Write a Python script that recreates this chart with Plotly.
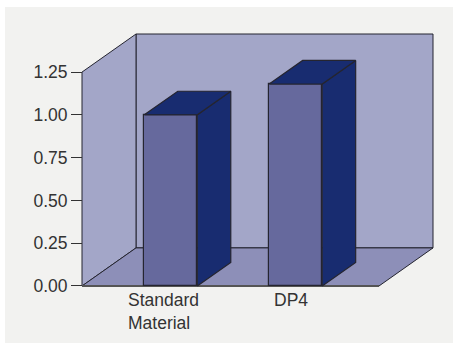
import plotly.graph_objects as go

# Data
categories = ["Standard<br>Material", "DP4"]
values = [1.00, 1.18]
tick_values = [0.00, 0.25, 0.50, 0.75, 1.00, 1.25]

# Geometry of the pseudo-3D box (axis units)
WALL_TOP = 1.25
N_CAT = len(categories)
PX_X = 148.5            # pixels per category unit
PX_Y = 170.8            # pixels per value unit
DX = 54 / PX_X          # depth offset of the back wall, x units
DY = 38 / PX_Y          # depth offset of the back wall, y units
BAR_W = 53 / PX_X
BAR_DEPTH = 0.62
BAR_START, BAR_STEP = 0.598, 0.841
PAD = 4                 # pixels of breathing room around the box

W, H = 453, 345
LEFT, TOP, BOTTOM = 82, 34, 286

FRONT = "#66699d"
DARK = "#182c70"
EDGE = "#252530"
WALL = "#a3a6c8"
FLOOR = "#8d8fb8"
PANEL = "#f2f2f0"
TEXT = "#333333"
FONT = "Liberation Sans, Arial, sans-serif"

x_lo = -PAD / PX_X
x_hi = N_CAT + DX + PAD / PX_X
y_lo = -PAD / PX_Y
y_hi = WALL_TOP + DY + PAD / PX_Y

m_l = LEFT - PAD
m_t = TOP - PAD
m_b = H - BOTTOM - PAD
plot_w = (x_hi - x_lo) * PX_X
plot_h = H - m_t - m_b
m_r = W - m_l - plot_w

centres = [BAR_START + i * BAR_STEP for i in range(N_CAT)]

fig = go.Figure()

# Front faces of the columns
fig.add_trace(go.Bar(
    x=centres, y=values, width=BAR_W,
    marker=dict(color=FRONT, line=dict(color=EDGE, width=1.2)),
    hoverinfo="skip", showlegend=False,
))

bdx = BAR_DEPTH * DX
bdy = BAR_DEPTH * DY
for c, v in zip(centres, values):
    x0, x1 = c - BAR_W / 2, c + BAR_W / 2
    # side face
    fig.add_trace(go.Scatter(
        x=[x1, x1 + bdx, x1 + bdx, x1, x1],
        y=[0, bdy, v + bdy, v, 0],
        mode="lines", fill="toself", fillcolor=DARK,
        line=dict(color=EDGE, width=1.2), hoverinfo="skip", showlegend=False,
    ))
    # top face
    fig.add_trace(go.Scatter(
        x=[x0, x0 + bdx, x1 + bdx, x1, x0],
        y=[v, v + bdy, v + bdy, v, v],
        mode="lines", fill="toself", fillcolor=DARK,
        line=dict(color=EDGE, width=1.2), hoverinfo="skip", showlegend=False,
    ))

shapes = [
    # outer panel (paper units relative to the plot area)
    dict(type="rect", xref="paper", yref="paper", layer="below",
         x0=(5 - m_l) / plot_w, x1=(W + 2 - m_l) / plot_w,
         y0=-(343 - (H - m_b)) / plot_h,
         y1=1 + (m_t - 7) / plot_h,
         fillcolor=PANEL, line=dict(width=0)),
    # back wall
    dict(type="path", layer="below",
         path=f"M{DX},{DY} L{N_CAT + DX},{DY} L{N_CAT + DX},{WALL_TOP + DY} L{DX},{WALL_TOP + DY} Z",
         fillcolor=WALL, line=dict(color=EDGE, width=1)),
    # left wall
    dict(type="path", layer="below",
         path=f"M0,0 L0,{WALL_TOP} L{DX},{WALL_TOP + DY} L{DX},{DY} Z",
         fillcolor=WALL, line=dict(color=EDGE, width=1)),
    # floor
    dict(type="path", layer="below",
         path=f"M0,0 L{N_CAT},0 L{N_CAT + DX},{DY} L{DX},{DY} Z",
         fillcolor=FLOOR, line=dict(color=EDGE, width=1)),
    # front floor edge
    dict(type="line", layer="below", x0=0, x1=N_CAT, y0=0, y1=0,
         line=dict(color="#555555", width=2)),
]

annotations = []
for c, label in zip(centres, categories):
    annotations.append(dict(
        x=c - BAR_W / 2 - 18 / PX_X, y=0, xref="x", yref="y",
        text=label, showarrow=False, align="left",
        xanchor="left", yanchor="top", yshift=-2,
        font=dict(family=FONT, size=17.5, color=TEXT),
    ))
annotations[1]["x"] = centres[1] - BAR_W / 2 + 3 / PX_X

fig.update_layout(
    width=W, height=H,
    margin=dict(l=m_l, r=m_r, t=m_t, b=m_b, pad=0),
    paper_bgcolor="white", plot_bgcolor="rgba(0,0,0,0)",
    bargap=0, barmode="overlay",
    shapes=shapes, annotations=annotations,
    font=dict(family=FONT, color=TEXT),
    xaxis=dict(range=[x_lo, x_hi], visible=False, fixedrange=True),
    yaxis=dict(
        range=[y_lo, y_hi], anchor="free", position=PAD / plot_w,
        tickvals=tick_values, tickformat=".2f",
        ticks="outside", ticklen=11, tickcolor=TEXT, tickwidth=1,
        tickfont=dict(family=FONT, size=17.5, color=TEXT),
        showgrid=False, zeroline=False, showline=False, fixedrange=True,
    ),
)

fig.write_html("out.html", config={"displayModeBar": False})
